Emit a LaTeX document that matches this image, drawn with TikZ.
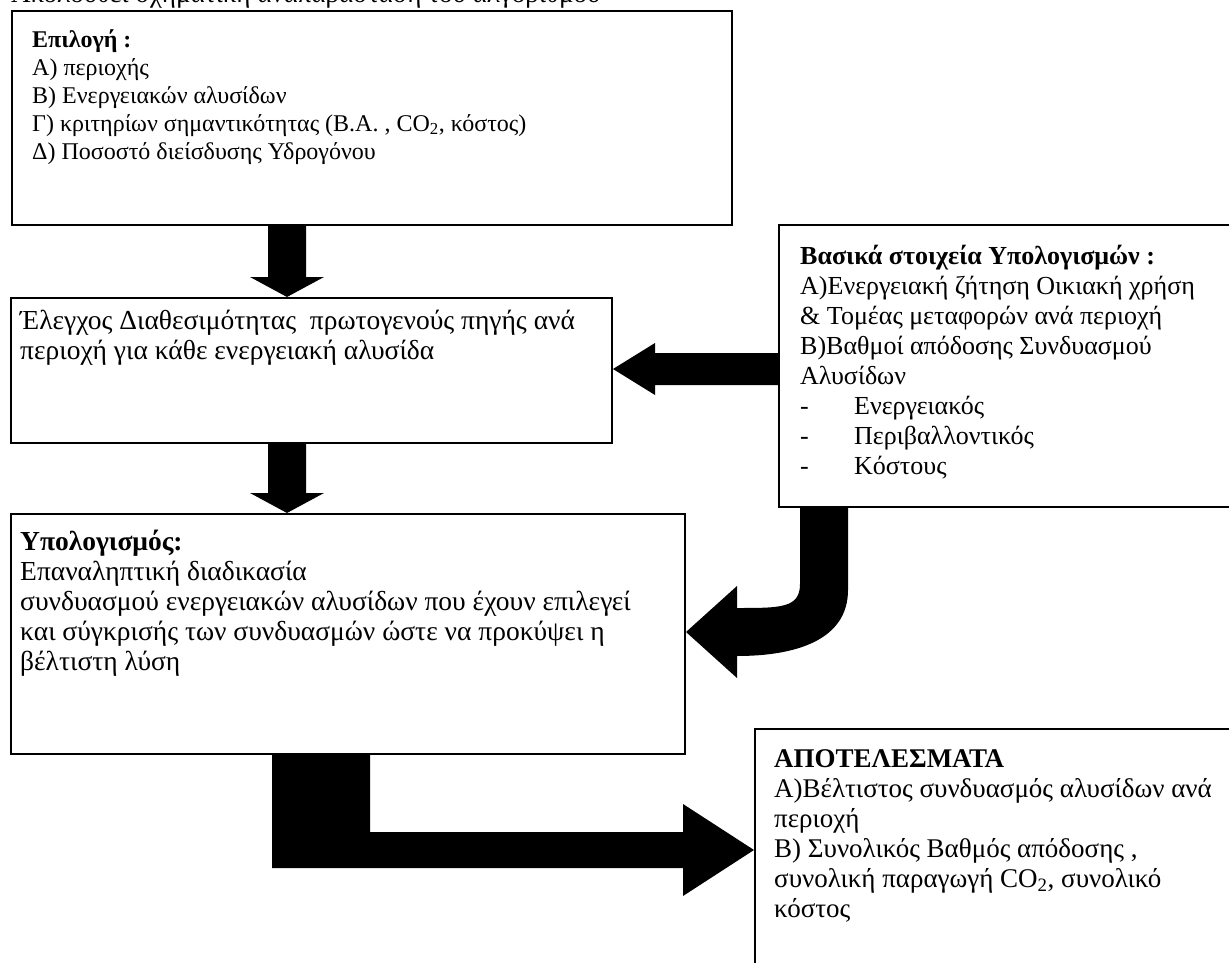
\documentclass[tikz,border=0pt]{standalone}
\usepackage{fontspec}
\setmainfont{Liberation Serif}
\usetikzlibrary{calc}

\newcommand{\lnh}[1]{\vrule height #1 width 0pt depth 0pt}

\tikzset{
  box/.style={draw, line width=2pt, anchor=north west, inner sep=0pt},
  txt/.style={anchor=north west, inner sep=0pt, align=left},
  blk/.style={fill=black},
}

\begin{document}
\begin{tikzpicture}[x=1pt, y=-1pt]
    \path[use as bounding box] (0,0) rectangle (1229,963);
    \clip (0,0) rectangle (1229,963);

    % --- TITULO (cortado arriba) ---
    \node[inner sep=0pt, anchor=base west, font=\fontsize{27}{31}\selectfont] (title) at (11,3)
        {Ακολουθεί σχηματική αναπαράσταση του αλγορίθμου};

    % --- CAJAS ---
    \node[box, minimum width=720pt, minimum height=214pt] (sel) at (11,10) {};
    \node[box, minimum width=601pt, minimum height=145pt] (chk) at (10,297) {};
    \node[box, minimum width=674pt, minimum height=240pt] (calc) at (10,513) {};
    \node[box, minimum width=470pt, minimum height=282pt] (base) at (778,224) {};
    \node[box, minimum width=500pt, minimum height=260pt] (res) at (754,728) {};

    % Textos
    \node[txt, font=\fontsize{24}{28}\selectfont] (selt) at (32,28)
        {\lnh{19pt}\textbf{Επιλογή :}\\
        Α) περιοχής\\
        Β) Ενεργειακών αλυσίδων\\
        Γ) κριτηρίων σημαντικότητας (Β.Α. , CO\textsubscript{2}, κόστος)\\
        Δ) Ποσοστό διείσδυσης Υδρογόνου};
    \node[txt, font=\fontsize{27.5}{30}\selectfont] (chkt) at (20,307)
        {\lnh{22pt}Έλεγχος Διαθεσιμότητας\ \ πρωτογενούς πηγής ανά\\
        περιοχή για κάθε ενεργειακή αλυσίδα};
    \node[txt, font=\fontsize{26}{30}\selectfont] (baset) at (800,243)
        {\lnh{21pt}\textbf{Βασικά στοιχεία Υπολογισμών :}\\
        Α)Ενεργειακή ζήτηση Οικιακή χρήση\\
        \& Τομέας μεταφορών ανά περιοχή\\
        Β)Βαθμοί απόδοσης Συνδυασμού\\
        Αλυσίδων\\
        \makebox[54pt][l]{-}Ενεργειακός\\
        \makebox[54pt][l]{-}Περιβαλλοντικός\\
        \makebox[54pt][l]{-}Κόστους};
    \node[txt, font=\fontsize{27.5}{30}\selectfont] (calct) at (20,528)
        {\lnh{22pt}\textbf{Υπολογισμός:}\\
        Επαναληπτική διαδικασία\\
        συνδυασμού ενεργειακών αλυσίδων που έχουν επιλεγεί\\
        και σύγκρισής των συνδυασμών ώστε να προκύψει η\\
        βέλτιστη λύση};
    \node[txt, font=\fontsize{27}{30}\selectfont] (rest) at (774,745)
        {\lnh{22pt}\textbf{ΑΠΟΤΕΛΕΣΜΑΤΑ}\\
        Α)Βέλτιστος συνδυασμός αλυσίδων ανά\\
        περιοχή\\
        Β) Συνολικός Βαθμός απόδοσης ,\\
        συνολική παραγωγή CO\textsubscript{2}, συνολικό\\
        κόστος};

    % --- FLECHAS GRUESAS ---
    \coordinate (ax) at (287,0);
    \coordinate (ay) at (0,369);

    % sel -> chk
    \fill[blk] ($(sel.south -| ax)+(-19,0)$) -- ($(sel.south -| ax)+(19,0)$)
        -- ($(chk.north -| ax)+(19,-20)$) -- ($(chk.north -| ax)+(37,-20)$)
        -- (chk.north -| ax) -- ($(chk.north -| ax)+(-37,-20)$)
        -- ($(chk.north -| ax)+(-19,-20)$) -- cycle;
    % chk -> calc
    \fill[blk] ($(chk.south -| ax)+(-19,0)$) -- ($(chk.south -| ax)+(19,0)$)
        -- ($(calc.north -| ax)+(19,-20)$) -- ($(calc.north -| ax)+(37,-20)$)
        -- (calc.north -| ax) -- ($(calc.north -| ax)+(-37,-20)$)
        -- ($(calc.north -| ax)+(-19,-20)$) -- cycle;
    % base -> chk
    \fill[blk] ($(base.west |- ay)+(0,-16)$) -- ($(chk.east |- ay)+(42,-16)$)
        -- ($(chk.east |- ay)+(42,-26)$) -- (chk.east |- ay)
        -- ($(chk.east |- ay)+(42,26)$) -- ($(chk.east |- ay)+(42,16)$)
        -- ($(base.west |- ay)+(0,16)$) -- cycle;

    % base -> calc (curva)
    \coordinate (cx) at (800,0);
    \coordinate (cy) at (0,632);
    \fill[blk] (base.south -| cx) -- ($(base.south -| cx)+(48,0)$)
        -- ($(base.south -| cx)+(48,82)$)
        .. controls ($(base.south -| cx)+(48,132)$) and ($(calc.east |- cy)+(110,24)$) .. ($(calc.east |- cy)+(51,24)$)
        -- ($(calc.east |- cy)+(51,46)$) -- (calc.east |- cy)
        -- ($(calc.east |- cy)+(51,-46)$) -- ($(calc.east |- cy)+(51,-24)$)
        .. controls ($(calc.east |- cy)+(95,-24)$) and ($(base.south -| cx)+(0,100)$) .. ($(base.south -| cx)+(0,76)$)
        -- cycle;

    % calc -> res (en L)
    \coordinate (lx) at (272,0);
    \coordinate (ly) at (0,850);
    \fill[blk] (calc.south -| lx) -- ($(calc.south -| lx)+(98,0)$)
        -- ($(lx |- ly)+(98,-18)$) -- ($(res.west |- ly)+(-71,-18)$)
        -- ($(res.west |- ly)+(-71,-46)$) -- (res.west |- ly)
        -- ($(res.west |- ly)+(-71,46)$) -- ($(res.west |- ly)+(-71,18)$)
        -- ($(lx |- ly)+(0,18)$) -- cycle;
\end{tikzpicture}
\end{document}
